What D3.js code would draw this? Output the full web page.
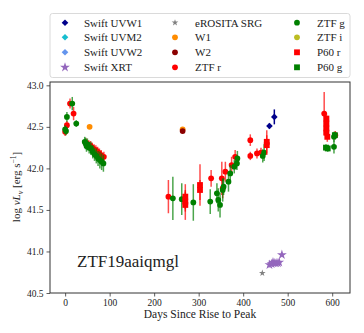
<!DOCTYPE html>
<html><head><meta charset="utf-8">
<script src="https://cdn.jsdelivr.net/npm/d3@7"></script>
<style>body{margin:0;background:#fff}svg{display:block}text{font-family:"Liberation Serif","Times New Roman",serif;fill:#222}</style>
</head><body><svg id="c" width="364" height="333"></svg>
<script>
// ---- data (days since rise to peak, log nuL_nu, error) ----
const ztfR_days = [0, 4, 11, 19, 48, 53, 57, 61, 65, 69, 73, 77, 81, 87, 232, 328, 352, 354, 360, 374, 382, 416, 416, 431, 440, 582, 607];
const ztfR_vals = [42.44, 42.52, 42.78, 42.66, 42.30, 42.28, 42.27, 42.25, 42.23, 42.22, 42.20, 42.18, 42.16, 42.14, 41.66, 41.88, 41.88, 41.76, 41.96, 42.04, 42.14, 42.34, 42.15, 42.18, 42.19, 42.66, 42.40];
const ztfR_errs = [0.05, 0.05, 0.06, 0.08, 0.06, 0.06, 0.06, 0.06, 0.06, 0.06, 0.06, 0.06, 0.06, 0.06, 0.20, 0.10, 0.20, 0.12, 0.12, 0.10, 0.08, 0.07, 0.05, 0.06, 0.06, 0.26, 0.05];

const ztfG_days = [0, 2, 4, 16, 25, 44, 46, 48, 50, 54, 58, 62, 66, 70, 74, 78, 82, 86, 242, 262, 288, 326, 341, 344, 348, 354, 356, 367, 371, 380, 386, 387, 444, 447, 604, 604];
const ztfG_vals = [42.47, 42.45, 42.62, 42.78, 42.54, 42.32, 42.30, 42.27, 42.29, 42.25, 42.24, 42.20, 42.17, 42.15, 42.12, 42.10, 42.08, 42.06, 41.64, 41.63, 41.59, 41.60, 41.70, 41.62, 41.56, 41.74, 41.78, 41.84, 41.94, 42.02, 42.06, 42.12, 42.15, 42.19, 42.38, 42.26];
const ztfG_errs = [0.05, 0.05, 0.06, 0.08, 0.04, 0.06, 0.07, 0.07, 0.07, 0.07, 0.08, 0.08, 0.08, 0.09, 0.09, 0.10, 0.10, 0.10, 0.26, 0.19, 0.22, 0.15, 0.12, 0.14, 0.15, 0.14, 0.10, 0.12, 0.10, 0.08, 0.08, 0.09, 0.08, 0.10, 0.06, 0.08];

const p60R_days = [270, 270, 270, 303, 303, 453, 453, 587, 587, 587, 587, 589];
const p60R_vals = [41.66, 41.60, 41.56, 41.80, 41.74, 42.32, 42.28, 42.60, 42.54, 42.48, 42.43, 42.38];
const p60R_errs = [0.15, 0.12, 0.18, 0.25, 0.12, 0.14, 0.12, 0.06, 0.06, 0.06, 0.06, 0.06];

const p60G_days = [586, 590, 606];
const p60G_vals = [42.25, 42.24, 42.40];
const p60G_errs = [0.04, 0.04, 0.04];

const w1_days = [55, 264];
const w1_vals = [42.50, 42.47];
const w2_days = [264];
const w2_vals = [42.45];

const uvw1_days = [459, 470];
const uvw1_vals = [42.51, 42.62];
const uvw1_errs = [0.03, 0.09];

const xrt_days = [459, 464, 467, 471, 474, 478, 481, 487];
const xrt_vals = [40.84, 40.85, 40.87, 40.86, 40.86, 40.86, 40.87, 40.96];

const erosita_days = [443];
const erosita_vals = [40.74];

const xTicks = [0, 100, 200, 300, 400, 500, 600];
const yTicks = [40.5, 41.0, 41.5, 42.0, 42.5, 43.0];

const legendItems = [
  ["Swift UVW1", "diamond", "#00008b"], ["eROSITA SRG", "smallstar", "#808080"], ["ZTF g", "circle", "#008000"],
  ["Swift UVM2", "diamond", "#17becf"], ["W1", "circle", "#ff8c00"], ["ZTF i", "circle", "#bcbd22"],
  ["Swift UVW2", "diamond", "#6495ed"], ["W2", "circle", "#8b0000"], ["P60 r", "square", "#ff0000"],
  ["Swift XRT", "star", "#9467bd"], ["ZTF r", "circle", "#ff0000"], ["P60 g", "square", "#008000"]
];

// ---- chart ----
const svg = d3.select("#c");
const L = 50, R = 350, T = 82, B = 293;
const x = d3.scaleLinear().domain([-34, 640]).range([L, R]);
const y = d3.scaleLinear().domain([40.5, 43.04]).range([B, T]);

const zip = (d, v, e) => d.map((di, i) => ({d: di, v: v[i], e: e ? e[i] : 0}));

const symDefs = {diamond: [d3.symbolSquare, 22, 45], star: [d3.symbolStar, 30, 0], smallstar: [d3.symbolStar, 14, 0], square: [d3.symbolSquare, 34, 0], circle: [d3.symbolCircle, 26, 0]};
function symPath(type) {
  return d3.symbol().type(symDefs[type][0]).size(symDefs[type][1])();
}
const rot = type => symDefs[type][2] ? ` rotate(${symDefs[type][2]})` : "";

const plot = svg.append("g");
function series(data, type, color, barColor, barOpacity) {
  const g = plot.append("g");
  g.selectAll("line").data(data.filter(p => p.e > 0)).join("line")
    .attr("x1", p => x(p.d)).attr("x2", p => x(p.d))
    .attr("y1", p => y(p.v - p.e)).attr("y2", p => y(p.v + p.e))
    .attr("stroke", barColor || color).attr("stroke-width", 1.5).attr("opacity", barOpacity == null ? 0.7 : barOpacity);
  g.selectAll("path").data(data).join("path")
    .attr("d", symPath(type))
    .attr("transform", p => `translate(${x(p.d)},${y(p.v)})` + rot(type))
    .attr("fill", color);
}

series(zip(ztfR_days, ztfR_vals, ztfR_errs), "circle", "#ff0000");
series(zip(ztfG_days, ztfG_vals, ztfG_errs), "circle", "#008000");
series(zip(p60R_days, p60R_vals, p60R_errs), "square", "#ff0000");
series(zip(p60G_days, p60G_vals, p60G_errs), "square", "#008000");
series(zip(w1_days, w1_vals), "circle", "#ff8c00");
series(zip(w2_days, w2_vals), "circle", "#8b0000");
series(zip(uvw1_days, uvw1_vals, uvw1_errs), "diamond", "#00008b", "#00008b", 1);
series(zip(xrt_days, xrt_vals), "star", "#9467bd");
series(zip(erosita_days, erosita_vals), "smallstar", "#808080");

// axes
const fmtY = d3.format(".1f");
const xa = svg.append("g").attr("transform", `translate(0,${B})`)
  .call(d3.axisBottom(x).tickValues(xTicks).tickSize(3.5).tickPadding(3).tickFormat(d3.format("d")));
const ya = svg.append("g").attr("transform", `translate(${L},0)`)
  .call(d3.axisLeft(y).tickValues(yTicks).tickSize(3.5).tickPadding(3).tickFormat(fmtY));
[xa, ya].forEach(a => {
  a.select(".domain").remove();
  a.selectAll("line").attr("stroke", "#333").attr("stroke-width", 0.8);
  a.selectAll("text").attr("font-size", 9.5).attr("font-family", "Liberation Serif, serif").attr("fill", "#222");
});
svg.append("rect").attr("x", L).attr("y", T).attr("width", R - L).attr("height", B - T)
  .attr("fill", "none").attr("stroke", "#333").attr("stroke-width", 1);

// labels
svg.append("text").attr("x", (L + R) / 2).attr("y", 318).attr("text-anchor", "middle")
  .attr("font-size", 11.5).text("Days Since Rise to Peak");

const yl = svg.append("text").attr("transform", "translate(20,187) rotate(-90)")
  .attr("text-anchor", "middle").attr("font-size", 11);
yl.append("tspan").text("log ");
yl.append("tspan").attr("font-style", "italic").text("νL");
yl.append("tspan").attr("font-style", "italic").attr("font-size", 8).attr("dy", 2.5).text("ν");
yl.append("tspan").attr("dy", -2.5).text(" [erg s");
yl.append("tspan").attr("font-size", 7.5).attr("dy", -4).text("−1");
yl.append("tspan").attr("dy", 4).text("]");

svg.append("text").attr("x", 77).attr("y", 266.5).attr("font-size", 17)
  .attr("font-family", "Liberation Serif, serif").attr("font-weight", "normal").text("ZTF19aaiqmgl");

// legend
const lg = svg.append("g");
lg.append("rect").attr("x", 50).attr("y", 13.5).attr("width", 300).attr("height", 64).attr("rx", 2.5)
  .attr("fill", "#fff").attr("stroke", "#d0d0d0").attr("stroke-width", 0.8);
const colMarker = [65, 175, 297], colText = [84, 195, 317], rowY = [22.7, 37.3, 52.3, 67.3];
legendItems.forEach((it, i) => {
  const c = i % 3, r = Math.floor(i / 3);
  lg.append("path").attr("d", symPath(it[1])).attr("transform", `translate(${colMarker[c]},${rowY[r]})` + rot(it[1])).attr("fill", it[2]);
  lg.append("text").attr("x", colText[c]).attr("y", rowY[r] + 3.8).attr("font-size", 11).text(it[0]);
});
</script></body></html>
